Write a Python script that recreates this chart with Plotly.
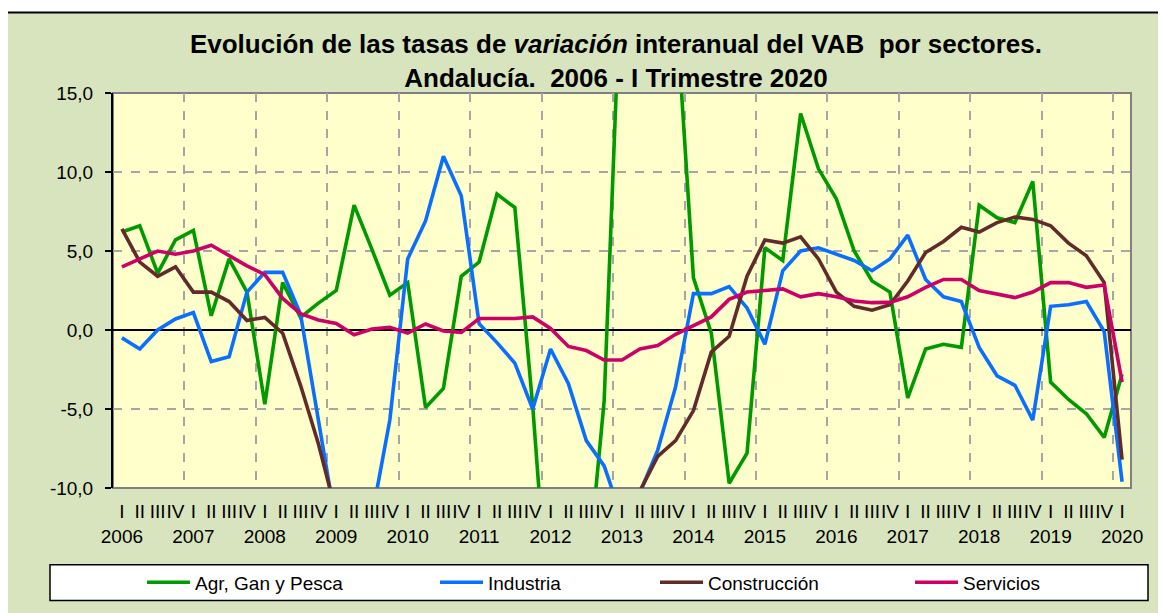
import plotly.graph_objects as go

# ---------------- data ----------------
years = list(range(2006, 2021))
quarter_names = ["I", "II", "III", "IV"]

agr = [6.2, 6.6, 3.6, 5.7, 6.3, 0.9, 4.5, 2.4, -4.7, 3.0,
       0.8, 1.7, 2.5, 7.9, 5.1, 2.2, 3.0, -4.9, -3.7, 3.4,
       4.3, 8.6, 7.75, -4.8, -20.0, -19.0, -16.5, -4.5, 24.5, 27.0,
       24.0, 20.9, 3.3, -0.2, -9.7, -7.8, 5.2, 4.4, 13.7, 10.2,
       8.3, 5.0, 3.1, 2.4, -4.3, -1.2, -0.9, -1.1, 7.9, 7.1,
       6.8, 9.4, -3.3, -4.4, -5.3, -6.8, -2.8]

industria = [-0.5, -1.2, 0.0, 0.7, 1.1, -2.0, -1.7, 2.4, 3.65, 3.65,
             1.0, -5.6, -12.4, -14.0, -11.8, -5.7, 4.5, 6.9, 11.0, 8.5,
             0.4, -0.8, -2.1, -5.0, -1.2, -3.4, -7.0, -8.6, -11.9, -10.3,
             -7.6, -3.6, 2.3, 2.3, 2.75, 1.4, -0.9, 3.75, 5.0, 5.2,
             4.8, 4.4, 3.75, 4.5, 6.0, 3.2, 2.1, 1.8, -1.1, -2.9,
             -3.5, -5.7, 1.5, 1.6, 1.8, -0.1, -9.6]

construccion = [6.4, 4.3, 3.4, 4.0, 2.4, 2.4, 1.8, 0.6, 0.8, -0.2,
                -3.5, -7.2, -11.6, -14.0, -16.5, -18.0, -19.5, -17.0, -15.0, -13.5,
                -14.5, -16.0, -18.5, -20.0, -21.5, -22.0, -20.5, -18.0, -14.5, -10.2,
                -8.0, -7.0, -5.1, -1.4, -0.4, 3.4, 5.7, 5.5, 5.9, 4.5,
                2.4, 1.5, 1.25, 1.6, 3.1, 4.9, 5.6, 6.5, 6.2, 6.8,
                7.15, 7.0, 6.6, 5.5, 4.7, 3.0, -8.2]

servicios = [4.0, 4.5, 5.0, 4.8, 5.0, 5.36, 4.7, 4.06, 3.5, 2.0,
             1.04, 0.63, 0.42, -0.3, 0.06, 0.17, -0.2, 0.38, -0.06, -0.15,
             0.73, 0.73, 0.73, 0.83, 0.1, -1.04, -1.3, -1.9, -1.9, -1.2,
             -0.98, -0.27, 0.31, 0.83, 1.94, 2.4, 2.5, 2.6, 2.1, 2.3,
             2.1, 1.83, 1.73, 1.75, 2.1, 2.7, 3.2, 3.2, 2.5, 2.3,
             2.05, 2.4, 3.0, 3.0, 2.7, 2.85, -3.3]

series_names = ["Agr, Gan y Pesca", "Industria", "Construcción", "Servicios"]
series_colors = ["#009A00", "#0A6EFF", "#632A2A", "#CC0066"]
legend_widths = [235, 162, 197, 110]

y_tickvals = [-10, -5, 0, 5, 10, 15]
y_ticktext = ["-10,0", "-5,0", "0,0", "5,0", "10,0", "15,0"]

# ---------------- derived ----------------
n = len(agr)
x = list(range(n))
x_ticktext = []
for i in range(n):
    q = i % 4
    if q == 0:
        x_ticktext.append(f"I<br>{years[i // 4]}")
    else:
        x_ticktext.append(quarter_names[q])
year_bounds = [4 * k - 0.5 for k in range(1, (n // 4) + 1)]

fig = go.Figure()
for name, vals, col, lw in zip(series_names, [agr, industria, construccion, servicios],
                               series_colors, legend_widths):
    fig.add_trace(go.Scatter(x=x, y=vals, mode="lines", name=name, legendwidth=lw,
                             line=dict(color=col, width=3.6)))

FONT = "Liberation Sans, Arial, sans-serif"
fig.update_layout(
    width=1158, height=605,
    margin=dict(l=105, r=35, t=85, b=123),
    paper_bgcolor="white", plot_bgcolor="#FFFFCC",
    font=dict(family=FONT, color="black"),
    title=dict(
        text="<b>Evolución de las tasas de <i>variación</i> interanual del VAB  por sectores.<br>Andalucía.  2006 - I Trimestre 2020</b>",
        x=0.525, xanchor="center", y=0.925, yanchor="top",
        font=dict(size=26, family=FONT, color="black")),
    showlegend=True,
    legend=dict(orientation="h", x=0.0285, xanchor="left", y=-0.239, yanchor="middle",
                bgcolor="rgba(0,0,0,0)", borderwidth=0, itemwidth=43,
                font=dict(size=19, family=FONT)),
    xaxis=dict(range=[-0.5, n - 0.5], tickmode="array", tickvals=x, ticktext=x_ticktext,
               tickangle=0, ticks="", showgrid=False, zeroline=False, showline=False,
               tickfont=dict(size=19), ticklabelstandoff=10,
               minor=dict(tickmode="array", tickvals=year_bounds, showgrid=True,
                          gridcolor="#A6A6A6", griddash="dash", gridwidth=1.5, ticks="")),
    yaxis=dict(range=[-10, 15], tickmode="array", tickvals=y_tickvals, ticktext=y_ticktext,
               showgrid=True, gridcolor="#A6A6A6", griddash="dash", gridwidth=1.5,
               zeroline=True, zerolinecolor="black", zerolinewidth=1.5,
               showline=True, linecolor="black", linewidth=2,
               ticks="outside", ticklen=6, tickwidth=2, tickcolor="black",
               tickfont=dict(size=19), ticklabelstandoff=8),
    shapes=[
        dict(type="rect", xref="paper", yref="paper", x0=-0.107, x1=1.0295, y0=-0.36, y1=1.204,
             fillcolor="#D7E4BD", line=dict(color="black", width=2), layer="below"),
        dict(type="rect", xref="x domain", yref="y domain", x0=0, x1=1, y0=0, y1=1,
             fillcolor="#FFFFCC", line=dict(color="#808080", width=2), layer="below"),
        dict(type="rect", xref="paper", yref="paper", x0=-0.0619, x1=1.0167, y0=-0.2846, y1=-0.194,
             fillcolor="white", line=dict(color="black", width=1.5), layer="below"),
    ],
)

fig.write_html("out.html")
